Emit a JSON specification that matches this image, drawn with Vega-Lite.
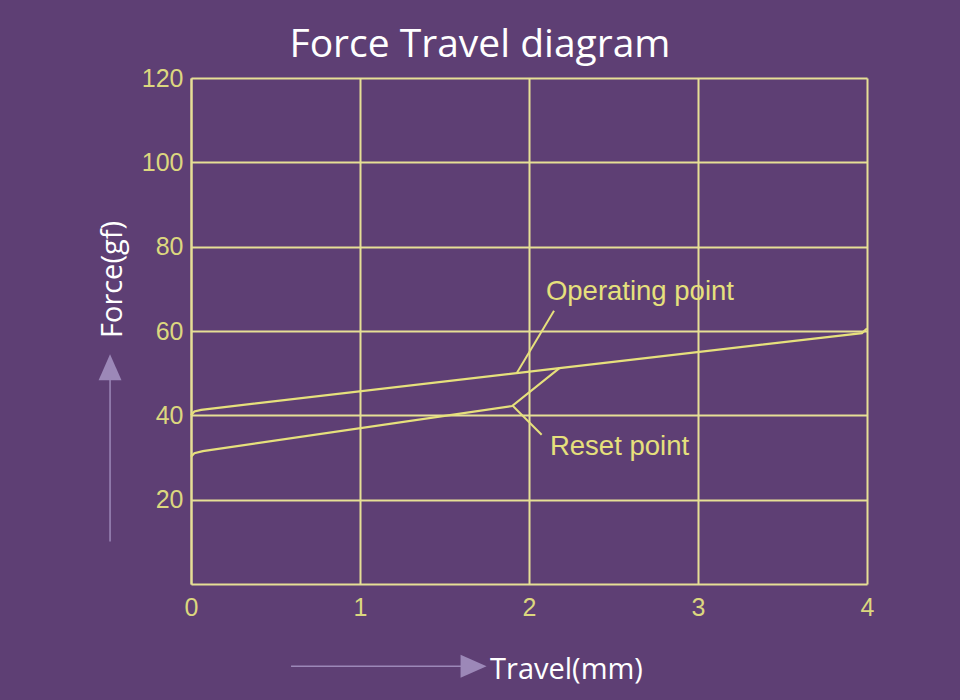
{
  "$schema": "https://vega.github.io/schema/vega-lite/v6.json",
  "width": 676,
  "height": 506,
  "autosize": {"type": "none"},
  "padding": {"left": 191, "top": 78, "right": 93, "bottom": 116},
  "background": "#5e3f74",
  "config": {
    "view": {"stroke": null},
    "axis": {
      "labelColor": "#dcd77f",
      "labelFont": "Liberation Sans",
      "labelFontSize": 25,
      "labelFlush": false,
      "labelOverlap": false,
      "domainColor": "#e6df95",
      "domainWidth": 2,
      "gridColor": "#e6df95",
      "gridWidth": 2,
      "gridOpacity": 1,
      "ticks": false,
      "titleColor": "#ffffff",
      "titleFont": "Open Sans",
      "titleFontSize": 29,
      "titleFontWeight": "normal"
    }
  },
  "title": {
    "text": "Force Travel diagram",
    "font": "Open Sans",
    "fontSize": 39,
    "fontWeight": "normal",
    "color": "#ffffff",
    "anchor": "middle",
    "dx": -49,
    "offset": 1
  },
  "datasets": {
    "curves": [
      {"series": "press", "travel": 0, "force": 40.0},
      {"series": "press", "travel": 0.02, "force": 40.9},
      {"series": "press", "travel": 0.06, "force": 41.3},
      {"series": "press", "travel": 2.18, "force": 51.2},
      {"series": "press", "travel": 3.97, "force": 59.5},
      {"series": "press", "travel": 4.0, "force": 60.6},
      {"series": "release", "travel": 0, "force": 30.2},
      {"series": "release", "travel": 0.02, "force": 31.0},
      {"series": "release", "travel": 0.07, "force": 31.5},
      {"series": "release", "travel": 1.9, "force": 42.2},
      {"series": "release", "travel": 2.18, "force": 51.2}
    ],
    "leaders": [
      {"name": "Operating point", "x": 1.927, "y": 50.0, "x2": 2.148, "y2": 64.8, "lx": 2.10, "ly": 69.2},
      {"name": "Reset point", "x": 1.905, "y": 42.2, "x2": 2.075, "y2": 35.4, "lx": 2.124, "ly": 32.5}
    ],
    "arrowLines": [
      {"x": -0.479, "y": 10.06, "x2": -0.479, "y2": 48.4},
      {"x": 0.592, "y": -19.5, "x2": 1.604, "y2": -19.5}
    ],
    "arrowHeads": [
      {"x": -0.479, "y": 51.4, "dir": "up"},
      {"x": 1.672, "y": -19.5, "dir": "right"}
    ]
  },
  "layer": [
    {
      "data": {"name": "curves"},
      "mark": {"type": "line", "color": "#e6e07c", "strokeWidth": 2.2},
      "encoding": {
        "x": {
          "field": "travel",
          "type": "quantitative",
          "scale": {"domain": [0, 4], "nice": false},
          "axis": {
            "values": [0, 1, 2, 3, 4],
            "format": "d",
            "labelPadding": 11,
            "title": "Travel(mm)",
            "titleX": 375,
            "titleY": 94,
            "titleBaseline": "alphabetic"
          }
        },
        "y": {
          "field": "force",
          "type": "quantitative",
          "scale": {"domain": [0, 120], "nice": false},
          "axis": {
            "values": [20, 40, 60, 80, 100, 120],
            "format": "d",
            "labelPadding": 8,
            "title": "Force(gf)",
            "titleX": -70,
            "titleY": 201,
            "titleAngle": -90,
            "titleBaseline": "alphabetic",
            "titleAlign": "center"
          }
        },
        "detail": {"field": "series"}
      }
    },
    {
      "data": {"name": "leaders"},
      "mark": {"type": "rule", "color": "#e6e07c", "strokeWidth": 2},
      "encoding": {
        "x": {"field": "x", "type": "quantitative"},
        "y": {"field": "y", "type": "quantitative"},
        "x2": {"field": "x2"},
        "y2": {"field": "y2"}
      }
    },
    {
      "data": {"name": "leaders"},
      "mark": {"type": "text", "color": "#e6e07c", "font": "Liberation Sans", "fontSize": 27.5, "align": "left", "baseline": "middle"},
      "encoding": {
        "x": {"field": "lx", "type": "quantitative"},
        "y": {"field": "ly", "type": "quantitative"},
        "text": {"field": "name"}
      }
    },
    {
      "data": {"name": "arrowLines"},
      "mark": {"type": "rule", "color": "#9c88b8", "strokeWidth": 1.5},
      "encoding": {
        "x": {"field": "x", "type": "quantitative"},
        "y": {"field": "y", "type": "quantitative"},
        "x2": {"field": "x2"},
        "y2": {"field": "y2"}
      }
    },
    {
      "data": {"name": "arrowHeads"},
      "mark": {"type": "point", "filled": true, "opacity": 1, "color": "#9c88b8", "size": 676},
      "encoding": {
        "x": {"field": "x", "type": "quantitative"},
        "y": {"field": "y", "type": "quantitative"},
        "shape": {
          "field": "dir",
          "type": "nominal",
          "scale": {"domain": ["up", "right"], "range": ["M-0.88,1L0,-1L0.88,1Z", "M-1,-0.88L1,0L-1,0.88Z"]},
          "legend": null
        }
      }
    }
  ]
}
